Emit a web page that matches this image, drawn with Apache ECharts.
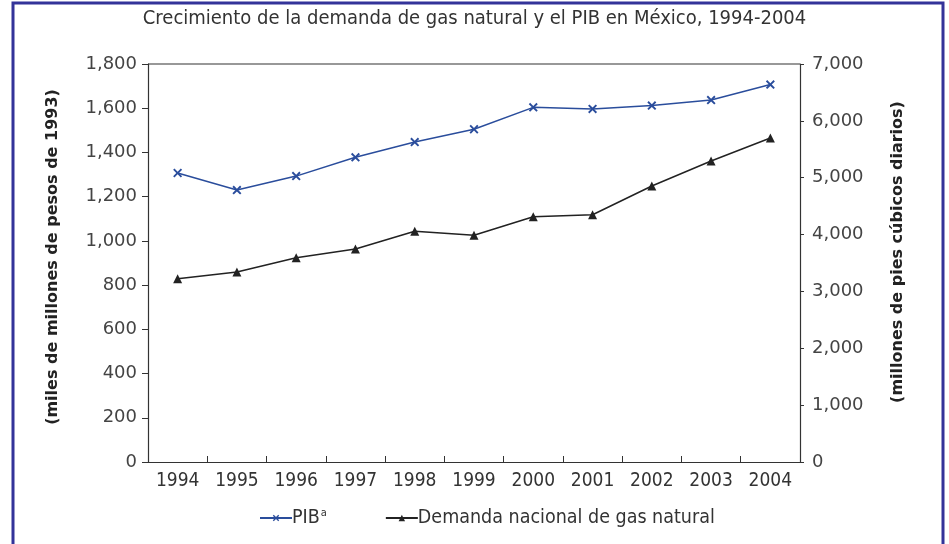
<!DOCTYPE html>
<html>
<head>
<meta charset="utf-8">
<script src="https://cdn.jsdelivr.net/npm/echarts@6/dist/echarts.min.js"></script>
<style>
  html, body { margin: 0; padding: 0; background: #fff; }
  #chart { width: 949px; height: 544px; }
</style>
</head>
<body>
<div id="chart"></div>
<script>
// Years on the category axis
const years = ['1994', '1995', '1996', '1997', '1998', '1999', '2000', '2001', '2002', '2003', '2004'];
// PIB, miles de millones de pesos de 1993 (left axis)
const pib = [1307, 1230, 1293, 1378, 1447, 1505, 1604, 1597, 1612, 1637, 1707];
// Demanda nacional de gas natural, millones de pies cúbicos diarios (right axis)
const gasDemand = [3224, 3342, 3593, 3746, 4057, 3987, 4314, 4349, 4854, 5294, 5698];

const titleText = 'Crecimiento de la demanda de gas natural y el PIB en México, 1994-2004';
const leftAxisName = '(miles de millones de pesos de 1993)';
const rightAxisName = '(millones de pies cúbicos diarios)';

const fmt = v => v.toLocaleString('en-US');
const axisColor = '#333';
const narrowFont = '"Liberation Sans Narrow", "DejaVu Sans Condensed", sans-serif';
const wideFont = '"DejaVu Sans", sans-serif';

// Filled "x" marker for the PIB series
const crossSymbol = 'path://M0,1.5 L1.5,0 L5,3.5 L8.5,0 L10,1.5 L6.5,5 L10,8.5 L8.5,10 L5,6.5 L1.5,10 L0,8.5 L3.5,5 Z';

const chart = echarts.init(document.getElementById('chart'), null, { renderer: 'canvas' });

chart.setOption({
  backgroundColor: '#fff',
  animation: false,
  title: {
    text: titleText,
    left: 'center',
    top: 4,
    textStyle: {
      fontFamily: narrowFont,
      fontSize: 20,
      fontWeight: 'normal',
      color: '#333'
    }
  },
  graphic: [
    {
      type: 'polyline',
      shape: { points: [[13, 560], [13, 3], [943, 3], [943, 560]] },
      style: { stroke: '#333399', lineWidth: 3, fill: null },
      silent: true
    },
    {
      // top edge of the plotting frame
      type: 'line',
      shape: { x1: 148, y1: 64, x2: 800, y2: 64 },
      style: { stroke: axisColor, lineWidth: 1.2 },
      silent: true
    }
  ],
  legend: {
    bottom: 11,
    left: 254,
    itemWidth: 32,
    itemHeight: 8,
    itemGap: 58,
    textStyle: {
      fontFamily: narrowFont,
      fontSize: 19.5,
      color: '#333',
      padding: [0, 0, 0, -5],
      rich: { sup: { fontFamily: narrowFont, fontSize: 11, verticalAlign: 'top', padding: [0, 0, 9, 1], color: '#333' } }
    },
    formatter: name => name === 'PIB' ? 'PIB{sup|a}' : name,
    data: ['PIB', 'Demanda nacional de gas natural']
  },
  grid: { left: 148, right: 149, top: 64, bottom: 82, containLabel: false },
  xAxis: {
    type: 'category',
    data: years,
    boundaryGap: true,
    axisLine: { lineStyle: { color: axisColor, width: 1.2 } },
    axisTick: { show: true, inside: true, length: 6, lineStyle: { color: axisColor } },
    axisLabel: { fontFamily: narrowFont, fontSize: 19, color: '#333', margin: 10 },
    splitLine: { show: false }
  },
  yAxis: [
    {
      type: 'value',
      min: 0,
      max: 1800,
      interval: 200,
      position: 'left',
      name: leftAxisName,
      nameLocation: 'middle',
      nameGap: 87,
      nameRotate: 90,
      nameTextStyle: { fontFamily: wideFont, fontSize: 16, fontWeight: 'bold', color: '#222', padding: [0, 0, 0, 12] },
      axisLine: { show: true, lineStyle: { color: axisColor, width: 1.2 } },
      axisTick: { show: true, length: 6, lineStyle: { color: axisColor } },
      axisLabel: { fontFamily: wideFont, fontSize: 18, color: '#444', margin: 11, formatter: fmt },
      splitLine: { show: false }
    },
    {
      type: 'value',
      min: 0,
      max: 7000,
      interval: 1000,
      position: 'right',
      name: rightAxisName,
      nameLocation: 'middle',
      nameGap: 90,
      nameRotate: 90,
      nameTextStyle: { fontFamily: wideFont, fontSize: 16, fontWeight: 'bold', color: '#222', padding: [0, 0, 0, 22] },
      axisLine: { show: true, lineStyle: { color: axisColor, width: 1.2 } },
      axisTick: { show: true, length: 4, lineStyle: { color: axisColor } },
      axisLabel: { fontFamily: wideFont, fontSize: 18, color: '#444', margin: 12, formatter: fmt },
      splitLine: { show: false }
    }
  ],
  series: [
    {
      name: 'PIB',
      type: 'line',
      yAxisIndex: 0,
      data: pib,
      symbol: crossSymbol,
      symbolSize: 9,
      showAllSymbol: true,
      lineStyle: { color: '#2a4d9c', width: 1.5 },
      itemStyle: { color: '#2a4d9c', borderWidth: 0 }
    },
    {
      name: 'Demanda nacional de gas natural',
      type: 'line',
      yAxisIndex: 1,
      data: gasDemand,
      symbol: 'triangle',
      symbolSize: 9,
      showAllSymbol: true,
      lineStyle: { color: '#222', width: 1.5 },
      itemStyle: { color: '#222', borderWidth: 0 }
    }
  ]
});
</script>
</body>
</html>
